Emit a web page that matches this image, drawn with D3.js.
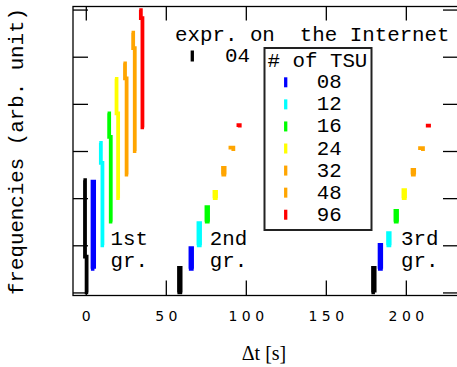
<!DOCTYPE html>
<html>
<head>
<meta charset="utf-8">
<script src="https://cdn.jsdelivr.net/npm/d3@7"></script>
<style>
  body { margin: 0; background: #fff; }
  .mono { font-family: "Liberation Mono", "DejaVu Sans Mono", monospace; font-size: 20.8px; fill: #000; }
  .serif { font-family: "Liberation Serif", "DejaVu Serif", serif; font-size: 20px; fill: #000; }
  .tick line { stroke: #000; stroke-width: 1.3; }
</style>
</head>
<body>
<div id="chart"></div>
<script>
// number of TSU for each series
const tsu = ["04", "08", "12", "16", "24", "32", "48", "96"];
const groupNames = ["1st", "2nd", "3rd"];
const groupLabelT = [15.5, 77.5, 197];
const xTicks = [0, 50, 100, 150, 200];
const yTicks = [0, 1, 2, 3, 4, 5, 6];

// start of the first bin [s] of each peak, per series (1st, 2nd, 3rd group)
const peakStart = [
    [-1.5, 57.25, 178.5],
    [-1.8, 59.4, 177.6],
    [-1.6, 59.4, 177.9],
    [-1.4, 59.4, 177.5],
    [-1.8, 59.4, 177.5],
    [-1.5, 59.75, 178.2],
    [-1.4, 59.2, 177.7],
    [-1.6, 59.2, 177.5]
];
// frequencies of consecutive 1 s bins of each peak
const peakBins = [
    [[2.38, 0.76, 0, 0], [0, 0.52, 0, 0], [0, 0.52, 0]],
    [[0, 1.85, 0],       [0, 0.44, 0, 0], [0, 0.51, 0, 0]],
    [[2.17, 1.75, 0, 0], [0, 0.47, 0, 0], [0, 0.26, 0, 0]],
    [[2.30, 1.80, 0, 0], [0, 0.31, 0, 0], [0, 0.23, 0, 0]],
    [[2.53, 1.80, 0, 0], [0, 0.13, 0, 0], [0, 0.17, 0, 0]],
    [[2.36, 2.04, 0, 0], [0, 0.14, 0, 0], [0, 0.10, 0, 0]],
    [[2.51, 2.18, 0, 0], [0.07, 0.07, 0.07, 0], [0.06, 0.06, 0.06, 0]],
    [[2.49, 2.32, 0, 0], [0.05, 0.05, 0], [0.04, 0.04, 0]]
];

// waterfall offsets between series
const xStep = 5;
const yStep = 0.5;

const colors = ["#000000", "#0000ff", "#00ffff", "#00ff00", "#ffff00", "#ffa500", "#ffa500", "#ff0000"];

const W = 457, H = 367;
const box = {left: 73, right: 458, top: 6.5, bottom: 295.5};

const svg = d3.select("#chart").append("svg")
    .attr("width", W)
    .attr("height", H);

const x = d3.scaleLinear().domain([-8, 232.6]).range([box.left, box.right]);
const y = d3.scaleLinear().domain([-0.065, 6.065]).range([box.bottom, box.top]);

// series
tsu.forEach((name, k) => {
    peakBins[k].forEach((bins, g) => {
        const pts = bins.map((v, i) => [peakStart[k][g] + i, v]);
        svg.append("path")
            .datum(pts)
            .attr("fill", "none")
            .attr("stroke", colors[k])
            .attr("stroke-width", 3.8)
            .attr("stroke-linecap", "butt")
            .attr("d", d3.line()
                .x(d => x(d[0] + k * xStep))
                .y(d => y(d[1] + k * yStep))
                .curve(d3.curveStepAfter));
    });
});

// axes (ticks inward, labels only at the bottom)
const bottom = svg.append("g")
    .attr("transform", `translate(0,${box.bottom})`)
    .call(d3.axisBottom(x).tickValues(xTicks).tickSize(-15).tickPadding(16));
bottom.select(".domain").remove();
bottom.selectAll("text")
    .attr("font-family", "'DejaVu Sans', sans-serif")
    .attr("font-size", 14)
    .attr("letter-spacing", "4.5px")
    .attr("dx", "2.25px")
    .attr("fill", "#000");

svg.append("g")
    .attr("transform", `translate(0,${box.top})`)
    .call(d3.axisTop(x).tickValues(xTicks).tickSize(-14).tickFormat(""))
    .select(".domain").remove();

svg.append("g")
    .attr("transform", `translate(${box.left},0)`)
    .call(d3.axisLeft(y).tickValues(yTicks).tickSize(-15).tickFormat(""))
    .select(".domain").remove();

svg.append("g")
    .attr("transform", `translate(${box.right},0)`)
    .call(d3.axisRight(y).tickValues(yTicks).tickSize(-15).tickFormat(""))
    .select(".domain").remove();

svg.append("rect")
    .attr("x", box.left)
    .attr("y", box.top)
    .attr("width", box.right - box.left)
    .attr("height", box.bottom - box.top)
    .attr("fill", "none")
    .attr("stroke", "#000")
    .attr("stroke-width", 1.3);

// group labels
groupNames.forEach((g, i) => {
    svg.append("text").attr("class", "mono")
        .attr("x", x(groupLabelT[i]))
        .attr("y", y(1.0))
        .text(g);
    svg.append("text").attr("class", "mono")
        .attr("x", x(groupLabelT[i]))
        .attr("y", y(0.54))
        .text("gr.");
});

// title + first key entry
svg.append("text").attr("class", "mono")
    .attr("x", 175).attr("y", 41)
    .style("white-space", "pre")
    .text("expr. on  the Internet");

svg.append("line")
    .attr("x1", 192.3).attr("x2", 192.3)
    .attr("y1", 50.5).attr("y2", 61.5)
    .attr("stroke", colors[0]).attr("stroke-width", 3.3);
svg.append("text").attr("class", "mono")
    .attr("x", 225).attr("y", 61.5)
    .text(tsu[0]);

// legend box
const legend = svg.append("g");
legend.append("rect")
    .attr("x", 264.5).attr("y", 48)
    .attr("width", 107).attr("height", 182)
    .attr("fill", "#fff")
    .attr("stroke", "#222")
    .attr("stroke-width", 2);
legend.append("text").attr("class", "mono")
    .attr("x", 267.5).attr("y", 66.7)
    .style("white-space", "pre")
    .text("# of TSU");

const rows = legend.selectAll(".row")
    .data(tsu.slice(1))
    .enter()
    .append("g")
    .attr("class", "row")
    .attr("transform", (d, i) => `translate(0,${88.3 + i * 22.07})`);
rows.append("line")
    .attr("x1", 285.7).attr("x2", 285.7)
    .attr("y1", -11).attr("y2", -1)
    .attr("stroke", (d, i) => colors[i + 1])
    .attr("stroke-width", 3.3);
rows.append("text").attr("class", "mono")
    .attr("x", 316.7).attr("y", 0)
    .text(d => d);

// axis titles
svg.append("text").attr("class", "serif")
    .attr("x", 264).attr("y", 360)
    .attr("text-anchor", "middle")
    .text("Δt [s]");

svg.append("text").attr("class", "mono")
    .attr("transform", "translate(22.7,151.5) rotate(-90)")
    .attr("text-anchor", "middle")
    .text("frequencies (arb. unit)");
</script>
</body>
</html>
